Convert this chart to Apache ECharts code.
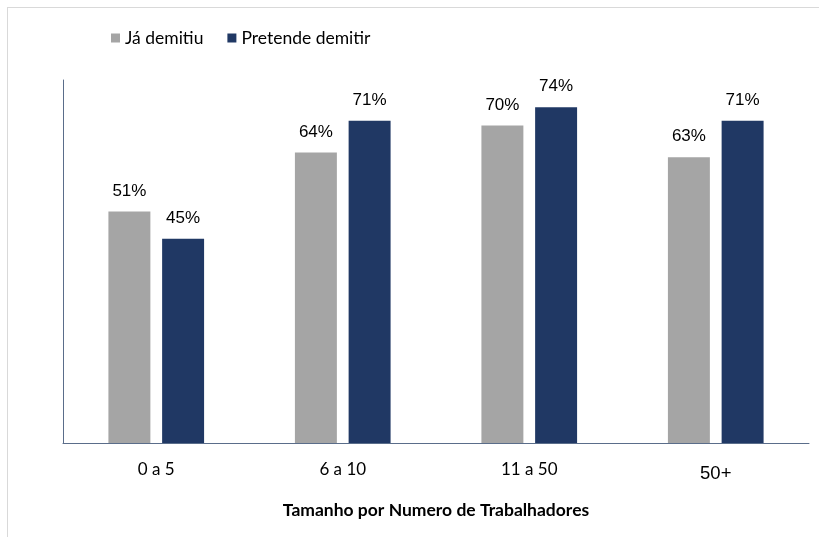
<!DOCTYPE html>
<html>
<head>
<meta charset="utf-8">
<script src="https://cdn.jsdelivr.net/npm/echarts@6/dist/echarts.min.js"></script>
<style>
  html, body { margin: 0; padding: 0; background: #fff; }
  #chart { width: 819px; height: 537px; }
</style>
</head>
<body>
<div id="chart"></div>
<script>
const categories = ['0 a 5', '6 a 10', '11 a 50', '50+'];
const jaDemitiu = [51, 64, 70, 63];
const pretendeDemitir = [45, 71, 74, 71];
const axisTitle = 'Tamanho por Numero de Trabalhadores';

const chart = echarts.init(document.getElementById('chart'));

const labelStyle = {
    show: true,
    position: 'top',
    distance: 12,
    formatter: (p) => p.value + '%',
    color: '#000',
    fontFamily: 'Liberation Sans',
    fontSize: 17
};

chart.setOption({
    animation: false,
    legend: {
        left: 106,
        top: 24,
        itemWidth: 9,
        itemHeight: 9,
        itemGap: 24,
        icon: 'rect',
        textStyle: { fontFamily: 'Lato', fontSize: 17.5, color: '#000' },
        data: ['Já demitiu', 'Pretende demitir']
    },
    grid: { left: 63, right: 10, top: 80, bottom: 94 },
    xAxis: {
        type: 'category',
        data: categories,
        axisLine: { lineStyle: { color: '#5a6d8a', width: 1 } },
        axisTick: { show: false },
        axisLabel: {
            margin: 18,
            formatter: (v) => v === '50+' ? '{big|' + v + '}' : '{n|' + v + '}',
            rich: {
                n: { fontFamily: 'Lato', fontSize: 17, color: '#000' },
                big: { fontFamily: 'Liberation Sans', fontSize: 18.5, color: '#000', padding: [3, 0, 0, 0] }
            }
        },
        name: axisTitle,
        nameLocation: 'middle',
        nameGap: 58,
        nameTextStyle: { fontFamily: 'Lato', fontWeight: 'bold', fontSize: 17.5, color: '#000' }
    },
    yAxis: {
        type: 'value',
        min: 0,
        max: 80,
        axisLine: { show: true, lineStyle: { color: '#5a6d8a', width: 1 } },
        axisLabel: { show: false },
        axisTick: { show: false },
        splitLine: { show: false }
    },
    series: [
        {
            name: 'Já demitiu',
            type: 'bar',
            barWidth: '22.5%',
            barGap: '28%',
            itemStyle: { color: '#a5a5a5' },
            label: labelStyle,
            data: jaDemitiu
        },
        {
            name: 'Pretende demitir',
            type: 'bar',
            barWidth: '22.5%',
            barGap: '28%',
            itemStyle: { color: '#203864' },
            label: labelStyle,
            data: pretendeDemitir
        }
    ],
    graphic: [
        { type: 'line', shape: { x1: 7, y1: 7.5, x2: 819, y2: 7.5 }, style: { stroke: '#d9d9d9', lineWidth: 1 } },
        { type: 'line', shape: { x1: 7.5, y1: 7, x2: 7.5, y2: 537 }, style: { stroke: '#d9d9d9', lineWidth: 1 } }
    ]
});
</script>
</body>
</html>
